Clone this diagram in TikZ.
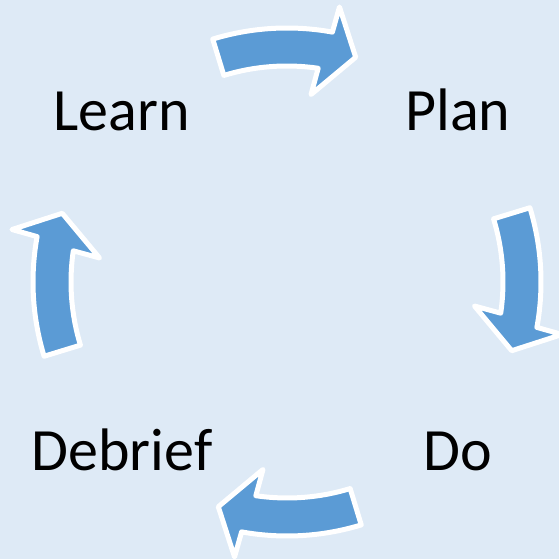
\documentclass[tikz,border=0pt]{standalone}
\usepackage{fontspec}
\setmainfont{Carlito}
\definecolor{bgblue}{HTML}{DEEAF6}
\definecolor{arrowblue}{HTML}{5B9BD5}
\tikzset{
  ringarrow/.style={fill=arrowblue, draw=white, line width=5pt, line join=round},
  steplabel/.style={anchor=base, inner sep=0pt, font=\fontsize{60}{72}\selectfont}
}
% one curved block arrow of the ring, turned to angle #1
\newcommand{\cyclearrow}[1]{%
  \begin{scope}[shift={(287,277)}, rotate=#1]
    \filldraw[ringarrow] (17:254) arc[start angle=17, end angle=-10.3, radius=254pt]
      -- (-10.8:280) -- (-17:235) -- (-7.3:189) -- (-8.3:216)
      arc[start angle=-8.3, end angle=17, radius=216pt] -- cycle;
  \end{scope}}

\begin{document}
\begin{tikzpicture}[x=1pt,y=1pt]
  \fill[bgblue] (0,0) rectangle (559,559);
  \useasboundingbox (0,0) rectangle (559,559);

  \cyclearrow{90}
  \cyclearrow{0}
  \cyclearrow{-90}
  \cyclearrow{180}

  \node[steplabel] (learn) at (121.5,428.3) {Learn};
  \node[steplabel] (plan) at (458,428.3) {Plan};
  \node[steplabel] (do) at (458,88.3) {Do};
  \node[steplabel] (debrief) at (122,88.3) {Debrief};
\end{tikzpicture}
\end{document}
